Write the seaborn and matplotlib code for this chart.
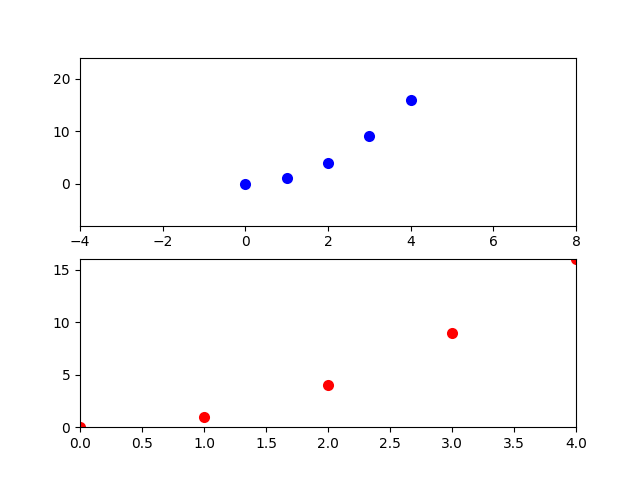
import matplotlib
matplotlib.use("Agg")
import matplotlib.pyplot as plt
import numpy as np
import pandas as pd
import seaborn as sns

# data
x_vals = [0, 1, 2, 3, 4]
y_vals = [0, 1, 4, 9, 16]

df = pd.DataFrame({'x': x_vals, 'y': y_vals})

fig, (ax1, ax2) = plt.subplots(2, 1, figsize=(6.4, 4.8), dpi=100)

sns.scatterplot(x='x', y='y', data=df, ax=ax1, color='b', s=64, linewidth=0)
ax1.margins(x=1, y=0.5)
ax1.set_xlim(-4, 8)
ax1.set_ylim(-8, 24)

sns.scatterplot(x='x', y='y', data=df, ax=ax2, color='r', s=64, linewidth=0)
ax2.set_xlim(0, 4)
ax2.set_ylim(0, 16)

for ax in (ax1, ax2):
    ax.set_xlabel('')
    ax.set_ylabel('')

fig.savefig('out.png', dpi=100)
